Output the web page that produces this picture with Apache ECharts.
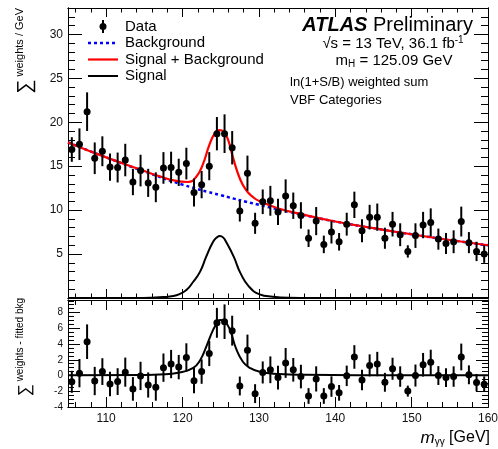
<!DOCTYPE html>
<html>
<head>
<meta charset="utf-8">
<script src="https://cdn.jsdelivr.net/npm/echarts@6/dist/echarts.min.js"></script>
<style>
  html, body { margin: 0; padding: 0; background: #fff; }
  #chart { width: 498px; height: 449px; }
</style>
</head>
<body>
<div id="chart"></div>
<script>
// Bin centres (1 GeV bins)
const massBins = [
  105.5, 106.5, 107.5, 108.5, 109.5, 110.5, 111.5, 112.5, 113.5, 114.5,
  115.5, 116.5, 117.5, 118.5, 119.5, 120.5, 121.5, 122.5, 123.5, 124.5,
  125.5, 126.5, 127.5, 128.5, 129.5, 130.5, 131.5, 132.5, 133.5, 134.5,
  135.5, 136.5, 137.5, 138.5, 139.5, 140.5, 141.5, 142.5, 143.5, 144.5,
  145.5, 146.5, 147.5, 148.5, 149.5, 150.5, 151.5, 152.5, 153.5, 154.5,
  155.5, 156.5, 157.5, 158.5, 159.5
];
// weighted sum / GeV
const sumWeights = [
  16.9, 17.5, 21.2, 15.9, 16.7, 14.9, 14.85, 15.7, 13.2, 14.5,
  13.1, 12.6, 14.8, 14.85, 14.3, 15.3, 12.0, 12.9, 15.0, 18.7,
  18.7, 17.1, 9.9, 14.2, 8.5, 10.95, 11.06, 9.8, 11.6, 10.5,
  9.4, 6.8, 8.75, 6.1, 7.5, 6.4, 8.4, 10.6, 7.65, 9.2,
  9.2, 6.8, 8.4, 7.2, 5.3, 7.1, 8.3, 8.6, 6.7, 6.2,
  6.4, 8.7, 6.3, 5.3, 5.0
];
// weights - fitted bkg
const residuals = [
  -0.8, 0.3, 4.3, -0.7, 0.5, -1.07, -0.77, 0.43, -1.7, -0.05,
  -1.2, -1.5, 1.0, 1.46, 1.07, 2.3, -0.65, 0.5, 2.8, 6.7,
  6.84, 5.7, -1.33, 3.2, -2.3, 0.39, 0.73, -0.26, 1.6, 0.73,
  -0.13, -2.6, -0.43, -2.6, -1.4, -2.2, -0.04, 2.36, -0.56, 1.29,
  1.46, -0.86, 0.86, -0.13, -1.98, 0, 1.37, 1.68, 0, -0.26,
  -0.13, 2.36, 0.09, -0.9, -1.1
];
const errors = [
  1.4, 1.8, 2.2, 1.8, 1.7, 1.55, 1.7, 1.85, 1.5, 1.8,
  1.6, 1.7, 1.8, 1.8, 1.55, 1.8, 1.6, 1.55, 1.6, 1.9,
  2.2, 1.9, 1.2, 2.0, 1.2, 1.4, 1.7, 1.5, 1.9, 1.5,
  1.5, 1.0, 1.6, 1.0, 1.3, 1.0, 1.3, 1.5, 1.3, 1.4,
  1.55, 1.2, 1.4, 1.3, 0.7, 1.4, 1.5, 1.6, 1.2, 1.2,
  1.3, 1.7, 1.2, 1.1, 1.0
];

// fitted curves
const bkgMass = [105, 110, 115, 120, 125, 130, 135, 140, 145, 150, 155, 160];
const bkgFit = [17.7, 16.0, 14.4, 12.9, 11.7, 10.6, 9.6, 8.7, 7.95, 7.25, 6.6, 6.0];

const sbMass = [105, 110, 115, 117, 119, 120.7, 121.8, 122.7, 123.5, 124.2, 124.8, 125.4,
  126.0, 126.6, 127.5, 128.3, 129.2, 130.1, 132.7, 135, 140, 145, 150, 155, 160];
const sbFit = [17.7, 16.0, 14.45, 13.85, 13.35, 13.2, 13.8, 15.3, 17.4, 18.7, 19.1, 18.9,
  17.9, 16.0, 13.6, 12.3, 11.5, 11.0, 10.15, 9.65, 8.7, 7.95, 7.25, 6.6, 6.0];

const sigMass = [105, 114, 116, 117.5, 118.8, 119.6, 120.5, 121.4, 122.3, 123.1, 124.0, 124.5,
  124.9, 125.3, 125.7, 126.7, 127.6, 128.7, 130.1, 131.8, 134, 137, 160];
const sigFit = [0, 0.01, 0.04, 0.1, 0.23, 0.45, 0.9, 1.85, 3.0, 4.7, 6.4, 6.9,
  7.05, 6.9, 6.4, 4.7, 2.8, 1.3, 0.42, 0.15, 0.03, 0.01, 0];

const resSigMass = [105, 115, 117, 119.6, 121.4, 122.3, 123.1, 124.0, 124.5, 124.9, 125.5, 126.2,
  127.0, 127.9, 128.8, 130.1, 132.7, 136, 145, 160];
const resSigFit = [0.03, 0.08, 0.13, 0.38, 0.98, 1.95, 3.65, 5.8, 6.6, 7.05, 6.9, 5.8,
  3.45, 1.75, 0.98, 0.47, 0.2, 0.1, 0.04, 0.02];

const FONT = "'Liberation Sans', Arial, Helvetica, sans-serif";

function pairs(xs, ys) {
  return xs.map((x, i) => [x, ys[i]]);
}

// one axis = one set of ticks (major or minor) on one side
function axis(gridIndex, position, min, max, step, tickLen, label) {
  return {
    type: 'value',
    gridIndex: gridIndex,
    position: position,
    min: min,
    max: max,
    minInterval: step,
    maxInterval: step,
    axisLine: { show: true, onZero: false, lineStyle: { color: '#000', width: 1 } },
    axisTick: { show: true, inside: true, length: tickLen, lineStyle: { color: '#000', width: 1 } },
    axisLabel: label ? Object.assign({
      show: true, color: '#111', fontFamily: FONT, showMinLabel: false, showMaxLabel: false
    }, label) : { show: false },
    splitLine: { show: false },
    axisPointer: { show: false }
  };
}

function renderPoint(params, api) {
  const x = api.value(0), y = api.value(1), e = api.value(2);
  const c = api.coord([x, y]);
  const hi = api.coord([x, y + e]);
  const lo = api.coord([x, y - e]);
  return {
    type: 'group',
    children: [
      { type: 'line', shape: { x1: c[0], y1: hi[1], x2: c[0], y2: lo[1] },
        style: { stroke: '#000', lineWidth: 2 } },
      { type: 'circle', shape: { cx: c[0], cy: c[1], r: 3.5 }, style: { fill: '#000' } }
    ]
  };
}

function curve(name, xs, ys, xi, color, width, dash) {
  return {
    name: name, type: 'line', xAxisIndex: xi, yAxisIndex: xi,
    data: pairs(xs, ys), smooth: 0.5, showSymbol: false,
    lineStyle: { color: color, width: width, type: dash || 'solid' }, z: 3
  };
}

const chart = echarts.init(document.getElementById('chart'));

const option = {
  animation: false,
  backgroundColor: '#fff',
  grid: [
    { left: 68, right: 10, top: 8, height: 290, outerBoundsMode: 'none' },
    { left: 68, right: 10, top: 300, height: 107, outerBoundsMode: 'none' }
  ],
  xAxis: [
    axis(0, 'bottom', 105, 160, 10, 9),
    axis(0, 'top', 105, 160, 10, 9),
    axis(0, 'bottom', 105, 160, 2, 4.5),
    axis(0, 'top', 105, 160, 2, 4.5),
    axis(1, 'bottom', 105, 160, 10, 10, { fontSize: 12, margin: 6, showMaxLabel: true }),
    axis(1, 'top', 105, 160, 10, 10),
    axis(1, 'bottom', 105, 160, 2, 5),
    axis(1, 'top', 105, 160, 2, 5)
  ],
  yAxis: [
    axis(0, 'left', 0, 33, 5, 14, { fontSize: 12, margin: 5 }),
    axis(0, 'right', 0, 33, 5, 14),
    axis(0, 'left', 0, 33, 1, 7),
    axis(0, 'right', 0, 33, 1, 7),
    axis(1, 'left', -4, 9.6, 2, 12, { fontSize: 10, margin: 5, showMinLabel: true }),
    axis(1, 'right', -4, 9.6, 2, 12),
    axis(1, 'left', -4, 9.6, 0.5, 6),
    axis(1, 'right', -4, 9.6, 0.5, 6)
  ],
  series: [
    curve('Background', bkgMass, bkgFit, 0, '#0000ff', 2.5, [3, 3]),
    curve('Signal + Background', sbMass, sbFit, 0, '#ff0000', 2.2),
    curve('Signal', sigMass, sigFit, 0, '#000', 2),
    {
      name: 'Data', type: 'custom', xAxisIndex: 0, yAxisIndex: 0,
      data: massBins.map((m, i) => [m, sumWeights[i], errors[i]]),
      renderItem: renderPoint, z: 5
    },
    curve('Signal (residual)', resSigMass, resSigFit, 4, '#000', 2),
    {
      name: 'Data - bkg', type: 'custom', xAxisIndex: 4, yAxisIndex: 4,
      data: massBins.map((m, i) => [m, residuals[i], errors[i]]),
      renderItem: renderPoint, z: 5
    }
  ],
  graphic: [
    // legend
    { type: 'line', shape: { x1: 103, y1: 20, x2: 103, y2: 33 }, style: { stroke: '#000', lineWidth: 2 } },
    { type: 'circle', shape: { cx: 103, cy: 26.5, r: 3.5 }, style: { fill: '#000' } },
    { type: 'text', x: 125, y: 26.5, style: { text: 'Data', fontSize: 15, fontFamily: FONT, fill: '#000', verticalAlign: 'middle' } },
    { type: 'line', shape: { x1: 88, y1: 43, x2: 118, y2: 43 }, style: { stroke: '#0000ff', lineWidth: 2.5, lineDash: [3, 3] } },
    { type: 'text', x: 125, y: 43, style: { text: 'Background', fontSize: 15, fontFamily: FONT, fill: '#000', verticalAlign: 'middle' } },
    { type: 'line', shape: { x1: 88, y1: 59.5, x2: 118, y2: 59.5 }, style: { stroke: '#ff0000', lineWidth: 2.2 } },
    { type: 'text', x: 125, y: 59.5, style: { text: 'Signal + Background', fontSize: 15, fontFamily: FONT, fill: '#000', verticalAlign: 'middle' } },
    { type: 'line', shape: { x1: 88, y1: 76, x2: 118, y2: 76 }, style: { stroke: '#000', lineWidth: 2 } },
    { type: 'text', x: 125, y: 76, style: { text: 'Signal', fontSize: 15, fontFamily: FONT, fill: '#000', verticalAlign: 'middle' } },
    // labels
    {
      type: 'text', x: 473, y: 25,
      style: {
        text: '{a|ATLAS} {p|Preliminary}', align: 'right', verticalAlign: 'middle', fill: '#000',
        fontSize: 20, fontFamily: FONT,
        rich: {
          a: { fontSize: 20, fontWeight: 'bold', fontStyle: 'italic', fontFamily: FONT },
          p: { fontSize: 20, fontFamily: FONT }
        }
      }
    },
    {
      type: 'text', x: 393, y: 44,
      style: {
        text: '{t|√s = 13 TeV, 36.1 fb}{sup|-1}', align: 'center', verticalAlign: 'middle', fill: '#000',
        fontFamily: FONT, fontSize: 15,
        rich: {
          t: { fontSize: 15, fontFamily: FONT, lineHeight: 17 },
          sup: { fontSize: 10, fontFamily: FONT, lineHeight: 11, verticalAlign: 'top' }
        }
      }
    },
    {
      type: 'text', x: 394, y: 61,
      style: {
        text: '{t|m}{sub|H}{t| = 125.09 GeV}', align: 'center', verticalAlign: 'middle', fill: '#000',
        fontFamily: FONT, fontSize: 15,
        rich: {
          t: { fontSize: 15, fontFamily: FONT, lineHeight: 17 },
          sub: { fontSize: 10, fontFamily: FONT, lineHeight: 10, verticalAlign: 'bottom' }
        }
      }
    },
    { type: 'text', x: 290, y: 82.5, style: { text: 'ln(1+S/B) weighted sum', fontSize: 13, fontFamily: FONT, fill: '#000', verticalAlign: 'middle' } },
    { type: 'text', x: 290, y: 100.5, style: { text: 'VBF Categories', fontSize: 13, fontFamily: FONT, fill: '#000', verticalAlign: 'middle' } },
    {
      type: 'text', x: 490, y: 438,
      style: {
        text: '{i|m}{sub|γγ}{t| [GeV]}', align: 'right', verticalAlign: 'middle', fill: '#000',
        fontFamily: FONT, fontSize: 16,
        rich: {
          i: { fontSize: 17, fontStyle: 'italic', fontFamily: FONT, lineHeight: 19 },
          sub: { fontSize: 10, fontFamily: FONT, lineHeight: 10, verticalAlign: 'bottom' },
          t: { fontSize: 16, fontFamily: FONT, lineHeight: 19 }
        }
      }
    },
    {
      type: 'text', x: 25, y: 8, rotation: Math.PI / 2,
      style: {
        text: '{s|∑}{w| weights / GeV}', align: 'right', verticalAlign: 'middle', fill: '#000',
        fontFamily: FONT, fontSize: 11,
        rich: {
          s: { fontSize: 20, fontFamily: FONT, lineHeight: 22 },
          w: { fontSize: 11, fontFamily: FONT, lineHeight: 22, verticalAlign: 'top' }
        }
      }
    },
    {
      type: 'text', x: 25, y: 298, rotation: Math.PI / 2,
      style: {
        text: '{s|∑}{w| weights - fitted bkg}', align: 'right', verticalAlign: 'middle', fill: '#000',
        fontFamily: FONT, fontSize: 10,
        rich: {
          s: { fontSize: 17, fontFamily: FONT, lineHeight: 19 },
          w: { fontSize: 10, fontFamily: FONT, lineHeight: 19, verticalAlign: 'top' }
        }
      }
    }
  ]
};

chart.setOption(option);
</script>
</body>
</html>
